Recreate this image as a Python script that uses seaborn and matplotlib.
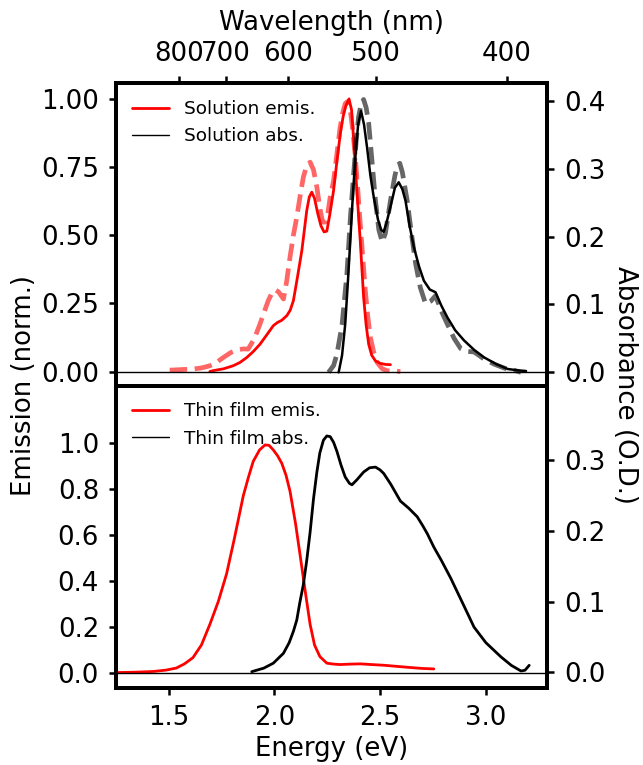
import numpy as np
import pandas as pd
import matplotlib
matplotlib.use("Agg")
import matplotlib.pyplot as plt
from matplotlib.lines import Line2D
import seaborn as sns

# ---------------- data ----------------
# Solution emission (solid red), normalized, energy in eV
sol_em_E = [1.695, 1.71, 1.76, 1.805, 1.837, 1.869, 1.90, 1.932, 1.96, 1.995, 2.015, 2.035,
            2.059, 2.075, 2.09, 2.11, 2.13, 2.153, 2.165, 2.177, 2.19, 2.205, 2.22, 2.235,
            2.248, 2.262, 2.28, 2.297, 2.312, 2.325, 2.338, 2.353, 2.365, 2.375, 2.39,
            2.406, 2.422, 2.434, 2.446, 2.46, 2.478, 2.50, 2.525, 2.549]
sol_em_I = [0.0, 0.003, 0.01, 0.021, 0.033, 0.051, 0.073, 0.10, 0.13, 0.168, 0.18, 0.188,
            0.205, 0.225, 0.26, 0.35, 0.444, 0.59, 0.64, 0.658, 0.635, 0.58, 0.535, 0.512,
            0.515, 0.575, 0.664, 0.78, 0.873, 0.935, 0.975, 1.0, 0.96, 0.848, 0.664,
            0.48, 0.272, 0.17, 0.10, 0.06, 0.039, 0.03, 0.026, 0.025]

# Solution emission, dashed (light red)
sol_em2_E = [1.505, 1.56, 1.615, 1.655, 1.695, 1.728, 1.758, 1.795, 1.829, 1.855, 1.876, 1.905,
             1.932, 1.955, 1.971, 1.988, 2.003, 2.02, 2.043, 2.058, 2.074, 2.09, 2.106, 2.122,
             2.137, 2.153, 2.169, 2.185, 2.201, 2.215, 2.228, 2.24, 2.252, 2.264, 2.28, 2.296,
             2.31, 2.322, 2.335, 2.345, 2.359, 2.37, 2.383, 2.395, 2.406, 2.418, 2.43, 2.442,
             2.454, 2.47, 2.486, 2.51, 2.533, 2.596]
sol_em2_I = [0.005, 0.007, 0.009, 0.013, 0.021, 0.034, 0.051, 0.07, 0.08, 0.083, 0.082, 0.12,
             0.174, 0.225, 0.26, 0.287, 0.30, 0.292, 0.266, 0.33, 0.42, 0.50, 0.566, 0.645,
             0.713, 0.755, 0.768, 0.74, 0.676, 0.60, 0.548, 0.548, 0.575, 0.64, 0.70, 0.80,
             0.89, 0.945, 0.983, 0.99, 0.958, 0.89, 0.787, 0.66, 0.542, 0.42, 0.297, 0.20,
             0.125, 0.07, 0.033, 0.01, 0.003, 0.0]

# Solution absorbance (solid black), O.D.
sol_abs_E = [2.304, 2.32, 2.335, 2.347, 2.359, 2.371, 2.383, 2.396, 2.41, 2.424, 2.438, 2.454,
             2.47, 2.49, 2.505, 2.517, 2.53, 2.549, 2.57, 2.588, 2.605, 2.62, 2.64, 2.66,
             2.685, 2.707, 2.735, 2.762, 2.79, 2.818, 2.855, 2.897, 2.945, 2.992, 3.05,
             3.103, 3.15, 3.19]
sol_abs_A = [0.0, 0.025, 0.071, 0.13, 0.194, 0.26, 0.317, 0.365, 0.385, 0.365, 0.332, 0.29,
             0.258, 0.225, 0.21, 0.207, 0.22, 0.244, 0.272, 0.28, 0.27, 0.253, 0.215, 0.184,
             0.155, 0.135, 0.122, 0.118, 0.098, 0.081, 0.062, 0.047, 0.033, 0.022, 0.012,
             0.005, 0.003, 0.002]

# Solution absorbance, dashed (gray)
sol_abs2_E = [2.256, 2.28, 2.296, 2.32, 2.343, 2.36, 2.375, 2.388, 2.398, 2.41, 2.422, 2.434,
              2.446, 2.462, 2.478, 2.494, 2.51, 2.525, 2.549, 2.57, 2.582, 2.593, 2.605, 2.628,
              2.648, 2.668, 2.69, 2.715, 2.74, 2.762, 2.79, 2.818, 2.85, 2.881, 2.91, 2.945,
              2.99, 3.04, 3.09, 3.135, 3.166]
sol_abs2_A = [0.0, 0.01, 0.027, 0.07, 0.145, 0.23, 0.293, 0.345, 0.376, 0.395, 0.402, 0.39,
              0.367, 0.31, 0.253, 0.21, 0.192, 0.205, 0.253, 0.29, 0.305, 0.308, 0.295, 0.253,
              0.205, 0.16, 0.125, 0.101, 0.105, 0.113, 0.09, 0.071, 0.05, 0.035, 0.031, 0.030,
              0.02, 0.012, 0.006, 0.003, 0.0]

# Thin film emission (red), normalized
film_em_E = [1.252, 1.35, 1.43, 1.489, 1.537, 1.575, 1.615, 1.655, 1.695, 1.735, 1.774, 1.81,
             1.853, 1.877, 1.90, 1.93, 1.956, 1.975, 1.995, 2.015, 2.035, 2.055, 2.074, 2.10,
             2.122, 2.145, 2.169, 2.19, 2.215, 2.248, 2.28, 2.312, 2.36, 2.406, 2.46, 2.517,
             2.58, 2.644, 2.70, 2.754]
film_em_I = [0.0, 0.002, 0.005, 0.011, 0.02, 0.038, 0.065, 0.12, 0.21, 0.31, 0.43, 0.58,
             0.77, 0.85, 0.92, 0.97, 0.992, 0.99, 0.97, 0.945, 0.912, 0.86, 0.79, 0.65,
             0.51, 0.36, 0.21, 0.12, 0.07, 0.041, 0.037, 0.035, 0.037, 0.038, 0.035, 0.032,
             0.027, 0.022, 0.018, 0.016]

# Thin film absorbance (black), O.D.
film_abs_E = [1.893, 1.95, 1.995, 2.043, 2.07, 2.09, 2.106, 2.12, 2.137, 2.153, 2.169, 2.185,
              2.201, 2.215, 2.232, 2.248, 2.264, 2.28, 2.296, 2.315, 2.335, 2.355, 2.367, 2.39,
              2.422, 2.45, 2.478, 2.50, 2.517, 2.55, 2.596, 2.635, 2.675, 2.70, 2.723, 2.754,
              2.79, 2.834, 2.89, 2.944, 3.0, 3.071, 3.12, 3.166, 3.185, 3.205]
film_abs_A = [0.001, 0.006, 0.013, 0.027, 0.042, 0.058, 0.074, 0.098, 0.124, 0.158, 0.198, 0.245,
              0.283, 0.31, 0.328, 0.334, 0.333, 0.325, 0.312, 0.293, 0.276, 0.267, 0.265, 0.272,
              0.283, 0.289, 0.29, 0.286, 0.281, 0.266, 0.242, 0.232, 0.22, 0.208, 0.196, 0.177,
              0.158, 0.133, 0.098, 0.064, 0.042, 0.022, 0.01, 0.002, 0.003, 0.01]

wl_ticks = [800, 700, 600, 500, 400]

# ---------------- style ----------------
sns.set_style("ticks")
plt.rcParams["font.family"] = ["DejaVu Sans"]
for key in ["text.color", "axes.labelcolor", "axes.edgecolor", "xtick.color", "ytick.color",
            "xtick.labelcolor", "ytick.labelcolor"]:
    plt.rcParams[key] = "black"
FS = 18.7
LFS = 13.3
SPW = 2.8

fig, (ax1, ax2) = plt.subplots(2, 1, sharex=True, figsize=(6.43, 7.65), dpi=100,
                               gridspec_kw=dict(hspace=0))
fig.subplots_adjust(left=0.180, right=0.851, top=0.891, bottom=0.1007)
ax1r = ax1.twinx()
ax2r = ax2.twinx()

# ---------------- top panel: solution ----------------
sns.lineplot(x=sol_em2_E, y=sol_em2_I, ax=ax1, color="red", alpha=0.6, lw=3.4,
             linestyle="--", sort=False)
sns.lineplot(x=sol_em_E, y=sol_em_I, ax=ax1, color="red", lw=2.0, sort=False)
ax1.axhline(0, color="k", lw=1.0)
sns.lineplot(x=sol_abs2_E, y=sol_abs2_A, ax=ax1r, color="black", alpha=0.6, lw=3.4,
             linestyle="--", sort=False)
sns.lineplot(x=sol_abs_E, y=sol_abs_A, ax=ax1r, color="black", lw=1.8, sort=False)

# ---------------- bottom panel: thin film ----------------
sns.lineplot(x=film_em_E, y=film_em_I, ax=ax2, color="red", lw=2.0, sort=False)
ax2.axhline(0, color="k", lw=1.0)
sns.lineplot(x=film_abs_E, y=film_abs_A, ax=ax2r, color="black", lw=2.0, sort=False)

# ---------------- axes ----------------
ax1.set_xlim(1.25, 3.29)
ax1.set_ylim(-0.052, 1.057)
ax1r.set_ylim(-0.0196, 0.4257)
ax2.set_ylim(-0.067, 1.25)
ax2r.set_ylim(-0.022, 0.405)

ax1.set_yticks([0, 0.25, 0.5, 0.75, 1.0])
ax1r.set_yticks([0, 0.1, 0.2, 0.3, 0.4])
ax2.set_yticks([0, 0.2, 0.4, 0.6, 0.8, 1.0])
ax2r.set_yticks([0, 0.1, 0.2, 0.3])
ax2.set_xticks([1.5, 2.0, 2.5, 3.0])

for ax in (ax1, ax1r, ax2, ax2r):
    for s in ax.spines.values():
        s.set_linewidth(SPW)
        s.set_visible(True)
        s.set_color("black")
    ax.tick_params(direction="out", length=5, width=1.8, labelsize=FS, pad=7,
                   color="black", labelcolor="black")
    ax.set_ylabel("")
    ax.set_xlabel("")

ax1.tick_params(axis="x", bottom=False, labelbottom=False, top=False)
ax1r.tick_params(axis="x", bottom=False, labelbottom=False, top=False)
ax2.tick_params(axis="x", top=False)
ax2r.tick_params(axis="x", top=False)

ax2.set_xlabel("Energy (eV)", fontsize=FS, labelpad=4, color="black")


def e2wl(x):
    x = np.asarray(x, dtype=float)
    with np.errstate(divide="ignore", invalid="ignore"):
        return 1239.84 / x


sec = ax1.secondary_xaxis("top", functions=(e2wl, e2wl))
sec.set_xticks(wl_ticks)
sec.set_xticklabels([str(w) for w in wl_ticks])
sec.tick_params(direction="out", length=5, width=1.8, labelsize=FS, pad=7,
                color="black", labelcolor="black")
sec.set_xlabel("Wavelength (nm)", fontsize=FS, labelpad=8, color="black")
for s in sec.spines.values():
    s.set_linewidth(SPW)
    s.set_color("black")

fig.text(24 / 643, 1 - 385 / 765, "Emission (norm.)", rotation=90, va="center",
         ha="center", fontsize=FS, color="black")
fig.text(625 / 643, 1 - 385 / 765, "Absorbance (O.D.)", rotation=270, va="center",
         ha="center", fontsize=FS, color="black")

# ---------------- legends ----------------
h1 = [Line2D([], [], color="red", lw=2.0), Line2D([], [], color="black", lw=1.0)]
leg1 = ax1r.legend(h1, ["Solution emis.", "Solution abs."], loc="upper left", frameon=False,
                   fontsize=LFS)
h2 = [Line2D([], [], color="red", lw=2.0), Line2D([], [], color="black", lw=1.0)]
leg2 = ax2r.legend(h2, ["Thin film emis.", "Thin film abs."], loc="upper left", frameon=False,
                   fontsize=LFS)
for leg in (leg1, leg2):
    for t in leg.get_texts():
        t.set_color("black")

fig.savefig("out.png", dpi=100)
